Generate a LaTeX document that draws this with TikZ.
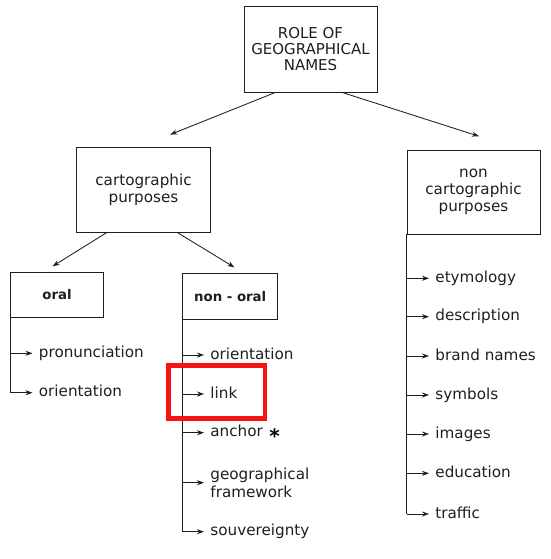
\documentclass[tikz,border=0pt]{standalone}
\usepackage{fontspec}
\setmainfont{DejaVu Sans}
\usetikzlibrary{arrows.meta}
\definecolor{inkGray}{HTML}{1E1E1E}
\definecolor{markRed}{HTML}{F41414}

\begin{document}
\begin{tikzpicture}[x=1pt, y=-1pt, line width=0.85pt, color=inkGray,
    >={Stealth[length=7pt, width=5pt]},
    font=\fontsize{15.2}{16.7}\selectfont,
    box/.style={draw, align=center, inner sep=2pt},
    head/.style={box, font=\bfseries\fontsize{13.3}{15}\selectfont},
    item/.style={anchor=west, inner sep=6pt, text height=11.5pt, text depth=3.2pt}]
  \useasboundingbox (0,0) rectangle (550,559);
  % boxes
  \node[box, minimum width=133pt, minimum height=86pt, font=\fontsize{15}{16}\selectfont] (role) at (310.5,49) {ROLE OF\\GEOGRAPHICAL\\NAMES};
  \node[box, minimum width=134pt, minimum height=85pt] (carto) at (143.5,189.5) {cartographic\\purposes};
  \node[box, minimum width=133pt, minimum height=84pt] (noncarto) at (473.5,192) {non\\cartographic\\purposes};
  \node[head, minimum width=93pt, minimum height=44.6pt] (oral) at (57,295) {oral};
  \node[head, minimum width=95.4pt, minimum height=45.7pt] (nonoral) at (230.2,296.2) {non - oral};
  % tree arrows
  \draw[->] ([xshift=-35pt]role.south) -- ([xshift=26.7pt, yshift=12pt]carto.north);
  \draw[->] ([xshift=31.6pt]role.south) -- ([xshift=5.5pt, yshift=13.3pt]noncarto.north);
  \draw[->] ([xshift=-36.5pt]carto.south) -- ([xshift=-4.4pt, yshift=6pt]oral.north);
  \draw[->] ([xshift=33.7pt]carto.south) -- ([xshift=4.2pt, yshift=5.6pt]nonoral.north);
  % oral list
  \foreach \y/\t [count=\i] in {353.3/pronunciation, 392.7/orientation}
    \node[item] (or\i) at (32.5,\y) {\t};
  \draw (oral.south west) -- (oral.south west |- or2.west);
  \foreach \i in {1,2} \draw[->] (oral.south west |- or\i.west) -- (or\i.west);
  % non-oral list
  \foreach \y/\t/\i in {355/orientation/1, 394/link/2, 432.7/anchor/3, 531.7/souvereignty/5}
    \node[item] (no\i) at (204,\y) {\t};
  \node[anchor=west, inner sep=6pt, align=left, font=\fontsize{15.2}{18.4}\selectfont] (no4) at (204,482.7) {geographical\\framework};
  \node[font=\bfseries\fontsize{20}{20}\selectfont, text=black, inner sep=0pt] (star) at (274.5,436) {*};
  \draw (nonoral.south west) -- (nonoral.south west |- no5.west);
  \foreach \i in {1,...,5} \draw[->] (nonoral.south west |- no\i.west) -- (no\i.west);
  % non cartographic list
  \foreach \y/\t [count=\i] in {278.3/etymology, 316.7/description, 356/brand names, 395/symbols, 434/images, 473.3/education, 514/traffic}
    \node[item] (nc\i) at (429,\y) {\t};
  \draw (noncarto.south west) -- (noncarto.south west |- nc7.west);
  \foreach \i in {1,...,7} \draw[->] (noncarto.south west |- nc\i.west) -- (nc\i.west);
  % highlight
  \draw[markRed, line width=4.5pt] (168.3,365.3) rectangle (264.8,418.5);
\end{tikzpicture}
\end{document}
